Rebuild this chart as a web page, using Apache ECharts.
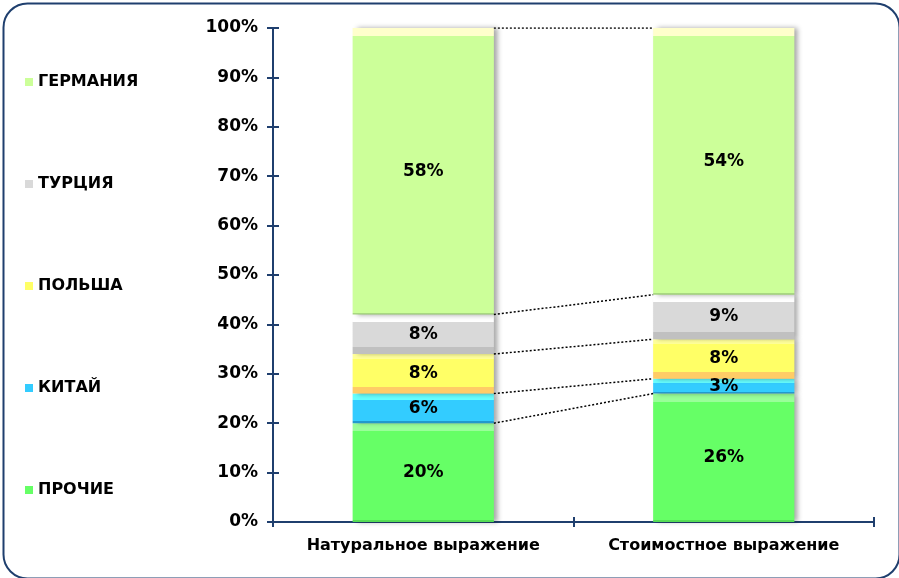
<!DOCTYPE html>
<html><head><meta charset="utf-8">
<script src="https://cdn.jsdelivr.net/npm/echarts@6/dist/echarts.min.js"></script>
<style>html,body{margin:0;padding:0;background:#fff}#c{width:899px;height:578px}</style>
</head><body><div id="c"></div>
<script>
const categories = ['Натуральное выражение', 'Стоимостное выражение'];
const seriesNames = ['ПРОЧИЕ', 'КИТАЙ', 'ПОЛЬША', 'ТУРЦИЯ', 'ГЕРМАНИЯ'];
const prochie  = [20, 26];
const kitai    = [6, 3];
const polsha   = [8, 8];
const turcia   = [8, 9];
const germania = [58, 54];
const values = [prochie, kitai, polsha, turcia, germania];

// colours: [top bevel, main, bottom bevel], bevel sizes px [top, bottom]
const palette = [
  ['#99FF99', '#66FF66', '#55DD55'],
  ['#66FFFF', '#33CCFF', '#2299CC'],
  ['#FFFF99', '#FFFF66', '#FFCC66'],
  ['#FFFFFF', '#D9D9D9', '#C0C0C0'],
  ['#FFFFCC', '#CCFF99', '#A8D880']
];
const bevelPx = [[8, 2], [6, 2], [5, 7], [7, 7], [8, 2]];

const chart = echarts.init(document.getElementById('c'), null, {renderer: 'canvas'});
const G = {left: 273, right: 25, top: 28, bottom: 56};
const plotH = 578 - G.top - G.bottom;
const pxPer = plotH / 100;

function bevel(val, col, bp) {
  const h = val * pxPer;
  const t = Math.min(bp[0], h * 0.3) / h;
  const b = Math.min(bp[1], h * 0.3) / h;
  return new echarts.graphic.LinearGradient(0, 0, 0, 1, [
    {offset: 0, color: col[0]}, {offset: t, color: col[0]},
    {offset: t, color: col[1]}, {offset: 1 - b, color: col[1]},
    {offset: 1 - b, color: col[2]}, {offset: 1, color: col[2]}
  ]);
}

const barSeries = seriesNames.map((name, i) => ({
  name: name,
  type: 'bar',
  stack: 'total',
  barWidth: '47%',
  xAxisIndex: 0, yAxisIndex: 0,
  color: palette[i][1],
  data: values[i].map(v => ({
    value: v,
    itemStyle: {
      color: bevel(v, palette[i], bevelPx[i]),
      shadowColor: 'rgba(0,0,0,0.35)', shadowBlur: 5, shadowOffsetX: 4, shadowOffsetY: 0
    }
  })),
  label: {
    show: true, position: 'inside', formatter: '{c}%',
    color: '#000', fontWeight: 'bold', fontSize: 17, fontFamily: 'DejaVu Sans'
  },
  emphasis: {disabled: true}
}));

// connector lines between cumulative tops
const half = 0.235;
const cum = [[0], [0]];
for (let c = 0; c < 2; c++) {
  let s = 0;
  values.forEach(arr => { s += arr[c]; cum[c].push(s); });
}
const connectors = [];
for (let k = 1; k < cum[0].length; k++) {
  connectors.push({coords: [[0.5 + half, cum[0][k]], [1.5 - half, cum[1][k]]]});
}

chart.setOption({
  animation: false,
  backgroundColor: '#fff',
  graphic: [{
    type: 'rect', left: 1, top: 1, silent: true,
    shape: {width: 896, height: 575, r: 24},
    style: {fill: 'none', stroke: '#1F3F6E', lineWidth: 2}
  }],
  legend: {
    orient: 'vertical', left: 20, top: 69, itemGap: 86,
    itemWidth: 8, itemHeight: 8, icon: 'rect',
    data: seriesNames.slice().reverse(),
    textStyle: {color: '#000', fontWeight: 'bold', fontSize: 16, fontFamily: 'DejaVu Sans'}
  },
  grid: G,
  xAxis: [{
    type: 'category', data: categories,
    axisLine: {lineStyle: {color: '#1F3F6E', width: 2}},
    axisTick: {show: true, length: 5, lineStyle: {color: '#1F3F6E', width: 2}},
    axisLabel: {interval: 0, hideOverlap: false, color: '#000', fontWeight: 'bold', fontSize: 16, fontFamily: 'DejaVu Sans', margin: 16}
  }, {
    type: 'category', data: categories, position: 'bottom',
    axisLine: {show: false},
    axisTick: {show: true, inside: true, length: 5, lineStyle: {color: '#1F3F6E', width: 2}},
    axisLabel: {show: false}
  }, {
    type: 'value', min: 0, max: 2, show: false
  }],
  yAxis: [{
    type: 'value', min: 0, max: 100, interval: 10,
    axisLine: {show: true, lineStyle: {color: '#1F3F6E', width: 2}},
    axisTick: {show: true, length: 6, lineStyle: {color: '#1F3F6E', width: 2}},
    splitLine: {show: false},
    axisLabel: {formatter: '{value}%', color: '#000', fontWeight: 'bold', fontSize: 17, fontFamily: 'DejaVu Sans', margin: 15}
  }, {
    type: 'value', min: 0, max: 100, interval: 10, position: 'left',
    axisLine: {show: false},
    axisTick: {show: true, inside: true, length: 6, lineStyle: {color: '#1F3F6E', width: 2}},
    splitLine: {show: false},
    axisLabel: {show: false}
  }],
  series: [{
    type: 'bar', xAxisIndex: 1, yAxisIndex: 1, data: [], silent: true
  }].concat(barSeries).concat([{
    type: 'lines', coordinateSystem: 'cartesian2d', xAxisIndex: 2, yAxisIndex: 0,
    silent: true, z: 5,
    lineStyle: {color: '#000', width: 1.5, type: [2, 2], opacity: 1},
    data: connectors
  }])
});
</script>
</body></html>
